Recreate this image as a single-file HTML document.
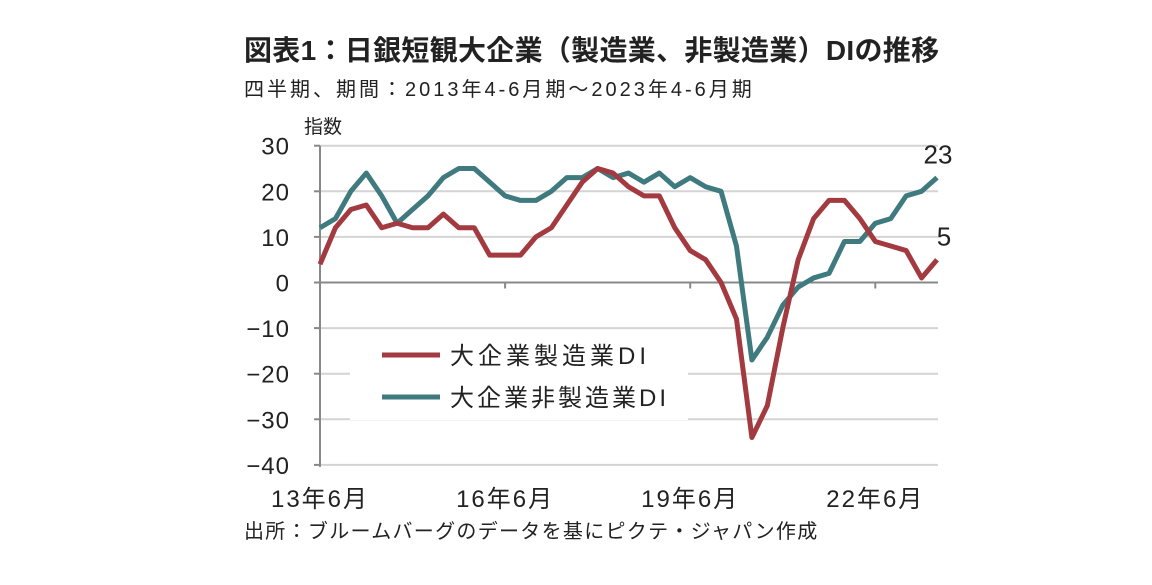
<!DOCTYPE html>
<html><head><meta charset="utf-8"><style>
body{margin:0;background:#fff;width:1152px;height:580px;overflow:hidden;font-family:"Liberation Sans","Noto Sans CJK JP",sans-serif;}
svg text{font-family:"Liberation Sans","Noto Sans CJK JP",sans-serif;fill:#222;}
</style></head><body>
<svg width="1152" height="580">
<text x="244" y="60" font-size="28" font-weight="bold" letter-spacing="0.3">図表1：日銀短観大企業（製造業、非製造業）DIの推移</text>
<text x="244" y="96" font-size="20" letter-spacing="3">四半期、期間：2013年4-6月期～2023年4-6月期</text>
<text x="304" y="133" font-size="19">指数</text>
<text x="244" y="538" font-size="20" letter-spacing="1.3">出所：ブルームバーグのデータを基にピクテ・ジャパン作成</text>
<g id="grid"></g><g id="axes"></g>
<rect x="350" y="338" width="338" height="82" fill="#fff"/>
<g id="lines"></g>
<g>
<line x1="382" y1="355" x2="440" y2="355" stroke="#a23a40" stroke-width="5"/>
<text x="450" y="364" font-size="24" letter-spacing="4">大企業製造業DI</text>
<line x1="382" y1="397" x2="440" y2="397" stroke="#3f7a7f" stroke-width="5"/>
<text x="450" y="406" font-size="24" letter-spacing="3">大企業非製造業DI</text>
</g>
</svg>
<script>
const xLabels=["13年6月","16年6月","19年6月","22年6月"];
const xLabelIdx=[0,12,24,36];
const yTicks=[30,20,10,0,-10,-20,-30,-40];
const manufacturing=[4,12,16,17,12,13,12,12,15,12,12,6,6,6,10,12,17,22,25,24,21,19,19,12,7,5,0,-8,-34,-27,-10,5,14,18,18,14,9,8,7,1,5];
const nonManufacturing=[12,14,20,24,19,13,16,19,23,25,25,22,19,18,18,20,23,23,25,23,24,22,24,21,23,21,20,8,-17,-12,-5,-1,1,2,9,9,13,14,19,20,23];
const NS="http://www.w3.org/2000/svg";
const X=i=>320+i*15.425;
const Y=v=>282.5-v*4.56;
function mk(t,a,p){const e=document.createElementNS(NS,t);for(const k in a)e.setAttribute(k,a[k]);document.getElementById(p).appendChild(e);return e;}
yTicks.forEach(v=>{
 if(v!==0){const g=mk('line',{x1:320,x2:938,y1:Y(v),y2:Y(v),stroke:'#d4d4d4','stroke-width':2},'grid');
 
 }
 const tk=mk('line',{x1:314,x2:320,y1:Y(v),y2:Y(v),stroke:'#888','stroke-width':2},'axes');
 
 
 const t=mk('text',{x:290,y:Y(v)+9,'font-size':24,'letter-spacing':1,'text-anchor':'end'},'axes');t.textContent=v<0?'−'+(-v):v;
 
 
});
const ya=mk('line',{x1:320,x2:320,y1:Y(30),y2:Y(-40)+2,stroke:'#888','stroke-width':2},'axes');


const xa=mk('line',{x1:320,x2:938,y1:Y(0),y2:Y(0),stroke:'#888','stroke-width':2},'axes');


xLabels.forEach((l,k)=>{const i=xLabelIdx[k];
 const tk=mk('line',{x1:X(i),x2:X(i),y1:Y(0),y2:Y(0)+6,stroke:'#888','stroke-width':2},'axes');
 
 
 const t=mk('text',{x:X(i),y:507,'font-size':24,'letter-spacing':2,'text-anchor':'middle'},'axes');t.textContent=l;
 
 
});
function series(d,c,n,dx){
 const p=mk('polyline',{points:d.map((v,i)=>X(i)+','+Y(v)).join(' '),fill:'none',stroke:c,'stroke-width':5,'stroke-linejoin':'round'},'lines');
 
 
 const last=d.length-1;
 const t=mk('text',{x:X(last)+dx,y:Y(d[last])-14,'font-size':26,'text-anchor':'middle'},'lines');t.textContent=d[last];
 
 
}
series(nonManufacturing,'#3f7a7f','line-nonmanufacturing',1);
series(manufacturing,'#a23a40','line-manufacturing',7);
</script>
</body></html>
